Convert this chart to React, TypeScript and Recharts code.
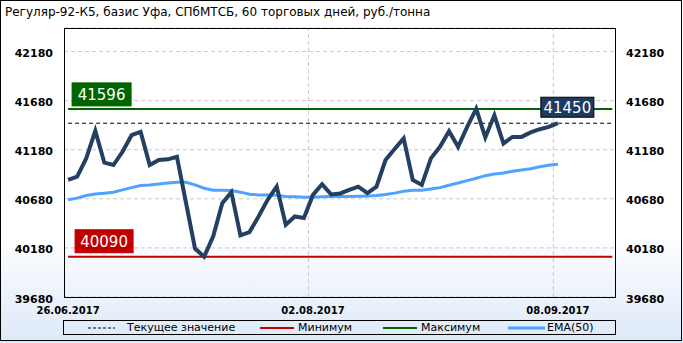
import React from 'react';
import { LineChart, Line, XAxis, YAxis, CartesianGrid, ReferenceLine, ReferenceDot } from 'recharts';

const FONT = '"DejaVu Sans", Verdana, sans-serif';

// trading days (categories)
const dates = [
    '26.06.2017', '27.06.2017', '28.06.2017', '29.06.2017', '30.06.2017',
    '03.07.2017', '04.07.2017', '05.07.2017', '06.07.2017', '07.07.2017',
    '10.07.2017', '11.07.2017', '12.07.2017', '13.07.2017', '14.07.2017',
    '17.07.2017', '18.07.2017', '19.07.2017', '20.07.2017', '21.07.2017',
    '24.07.2017', '25.07.2017', '26.07.2017', '27.07.2017', '28.07.2017',
    '31.07.2017', '01.08.2017', '02.08.2017', '03.08.2017', '04.08.2017',
    '07.08.2017', '08.08.2017', '09.08.2017', '10.08.2017', '11.08.2017',
    '14.08.2017', '15.08.2017', '16.08.2017', '17.08.2017', '18.08.2017',
    '21.08.2017', '22.08.2017', '23.08.2017', '24.08.2017', '25.08.2017',
    '28.08.2017', '29.08.2017', '30.08.2017', '31.08.2017', '01.09.2017',
    '04.09.2017', '05.09.2017', '06.09.2017', '07.09.2017', '08.09.2017',
];

const price = [
    40872, 40906, 41092, 41372, 41048, 41024, 41159, 41328, 41362, 41024,
    41075, 41082, 41109, 40640, 40173, 40090, 40298, 40636, 40748, 40308,
    40342, 40500, 40670, 40804, 40416, 40500, 40484, 40720, 40829, 40725,
    40735, 40771, 40804, 40738, 40804, 41075, 41187, 41295, 40872, 40822,
    41092, 41210, 41369, 41210, 41413, 41596, 41305, 41531, 41244, 41311,
    41311, 41356, 41389, 41413, 41450,
];

const ema50 = [
    40670, 40687, 40713, 40730, 40738, 40748, 40771, 40794, 40815, 40822,
    40832, 40842, 40849, 40849, 40822, 40788, 40768, 40768, 40764, 40748,
    40727, 40720, 40720, 40717, 40703, 40700, 40697, 40697, 40700, 40703,
    40703, 40703, 40707, 40710, 40713, 40723, 40738, 40758, 40768, 40768,
    40781, 40794, 40819, 40842, 40865, 40890, 40916, 40933, 40943, 40961,
    40974, 40987, 41007, 41021, 41031,
];

const tickDates = ['26.06.2017', '02.08.2017', '08.09.2017'];
const yTicks = [39680, 40180, 40680, 41180, 41680, 42180];
const WINDOW = 60;

const data = dates.map((d, i) => ({ i, date: d, price: price[i], ema: ema50[i] }));
const minVal = Math.min(...price);
const maxVal = Math.max(...price);
const lastVal = price[price.length - 1];
const lastIdx = price.length - 1;
const xTicks = tickDates.map((d) => dates.indexOf(d));

const LeftTick = ({ y, payload }: any) => (
    <text x={53} y={y + 5.5} textAnchor="end" fontFamily={FONT} fontSize={11} fontWeight="bold" fill="#000">
        {payload.value}
    </text>
);

const RightTick = ({ y, payload }: any) => (
    <text x={626} y={y + 5.5} textAnchor="start" fontFamily={FONT} fontSize={11} fontWeight="bold" fill="#000">
        {payload.value}
    </text>
);

const DateTick = ({ x, payload }: any) => (
    <text x={x} y={314} textAnchor="middle" fontFamily={FONT} fontSize={10} fontWeight="bold" fill="#000">
        {dates[payload.value]}
    </text>
);

const valueBox = (dx: number, dy: number, w: number, h: number, fill: string, stroke: string, value: number) =>
    (props: any) => {
        const { cx, cy } = props;
        return (
            <g>
                <rect x={cx + dx} y={cy + dy} width={w} height={h} fill={fill} stroke={stroke} strokeWidth={1} />
                <text x={cx + dx + w / 2} y={cy + dy + h / 2 + 5.5} textAnchor="middle"
                      fontFamily={FONT} fontSize={15} fill="#fff">
                    {value}
                </text>
            </g>
        );
    };

const legendItems = [
    { label: 'Текущее значение', x: 88, w: 27, color: '#000', width: 1, dash: '3 2', gap: 12 },
    { label: 'Минимум', x: 260, w: 34, color: '#c00000', width: 2, dash: '', gap: 4 },
    { label: 'Максимум', x: 383, w: 34, color: '#006400', width: 2, dash: '', gap: 4 },
    { label: 'EMA(50)', x: 508, w: 37, color: '#4da3ff', width: 3, dash: '', gap: 2 },
];

const App = () => {
    return (
        <div style={{
            position: 'absolute', left: 0, top: 0, width: 683, height: 343,
            background: 'linear-gradient(to bottom, #ffffff 0%, #ffffff 68%, #dde9f8 100%)',
            fontFamily: FONT,
        }}>
            <div style={{
                position: 'absolute', left: 0, top: 0, width: 682, height: 341,
                border: '1px solid #000', boxSizing: 'border-box',
            }} />
            <div style={{ position: 'absolute', left: 5, top: 5, fontSize: 12, lineHeight: '15px', color: '#000', whiteSpace: 'nowrap' }}>
                Регуляр-92-К5, базис Уфа, СПбМТСБ, 60 торговых дней, руб./тонна
            </div>

            <div style={{ position: 'absolute', left: 0, top: 0 }}>
                <LineChart width={683} height={343} data={data} margin={{ top: 28, right: 0, bottom: 20, left: 0 }}>
                    <CartesianGrid vertical={false} stroke="#c8c8c8" strokeDasharray="4 3" />
                    <XAxis dataKey="i" type="number" domain={[-0.45, WINDOW + 0.3]} ticks={xTicks} height={26}
                           axisLine={false} tickLine={false} tick={<DateTick />} allowDataOverflow />
                    <YAxis domain={[39680, 42420]} ticks={yTicks} width={64} axisLine={false} tickLine={false}
                           tick={<LeftTick />} allowDataOverflow />
                    <YAxis yAxisId="right" orientation="right" domain={[39680, 42420]} ticks={yTicks} width={68}
                           axisLine={false} tickLine={false} tick={<RightTick />} allowDataOverflow />
                    {xTicks.slice(1).map((t) => (
                        <ReferenceLine key={t} x={t - 0.5} stroke="#c8c8c8" strokeDasharray="4 3" />
                    ))}
                    <ReferenceLine segment={[{ x: 0, y: minVal }, { x: WINDOW, y: minVal }]} stroke="#c00000" strokeWidth={2} />
                    <ReferenceLine segment={[{ x: 0, y: maxVal }, { x: WINDOW, y: maxVal }]} stroke="#006400" strokeWidth={2} />
                    <ReferenceLine segment={[{ x: 0, y: lastVal }, { x: WINDOW, y: lastVal }]} stroke="#000" strokeWidth={1} strokeDasharray="4 3" />
                    <Line dataKey="ema" stroke="#4da3ff" strokeWidth={3} dot={false} isAnimationActive={false} />
                    <Line dataKey="price" stroke="#233f62" strokeWidth={4} dot={false} isAnimationActive={false} />
                    <ReferenceDot x={0} y={maxVal} r={0} shape={valueBox(4, -26, 59, 23, '#006400', '#006400', maxVal)} />
                    <ReferenceDot x={0} y={minVal} r={0} shape={valueBox(7, -27, 58, 23, '#c00000', '#c00000', minVal)} />
                    <ReferenceDot x={lastIdx} y={lastVal} r={0} shape={valueBox(-17, -26, 53, 20, '#1d3a5f', '#000', lastVal)} />
                </LineChart>
            </div>

            <div style={{
                position: 'absolute', left: 64, top: 28, width: 552, height: 270,
                border: '1px solid #000', boxSizing: 'border-box', pointerEvents: 'none',
            }} />

            <div style={{
                position: 'absolute', left: 63, top: 320, width: 553, height: 15,
                border: '1px solid #000', boxSizing: 'border-box',
            }} />
            {legendItems.map((it) => (
                <div key={it.label} style={{ position: 'absolute', left: it.x, top: 320, height: 15, display: 'flex', alignItems: 'center' }}>
                    <svg width={it.w} height={4} style={{ display: 'block' }}>
                        <line x1={0} y1={2} x2={it.w} y2={2} stroke={it.color} strokeWidth={it.width} strokeDasharray={it.dash || undefined} />
                    </svg>
                    <span style={{ marginLeft: it.gap, fontSize: 11, color: '#000', whiteSpace: 'nowrap' }}>{it.label}</span>
                </div>
            ))}
        </div>
    );
};

export default App;
